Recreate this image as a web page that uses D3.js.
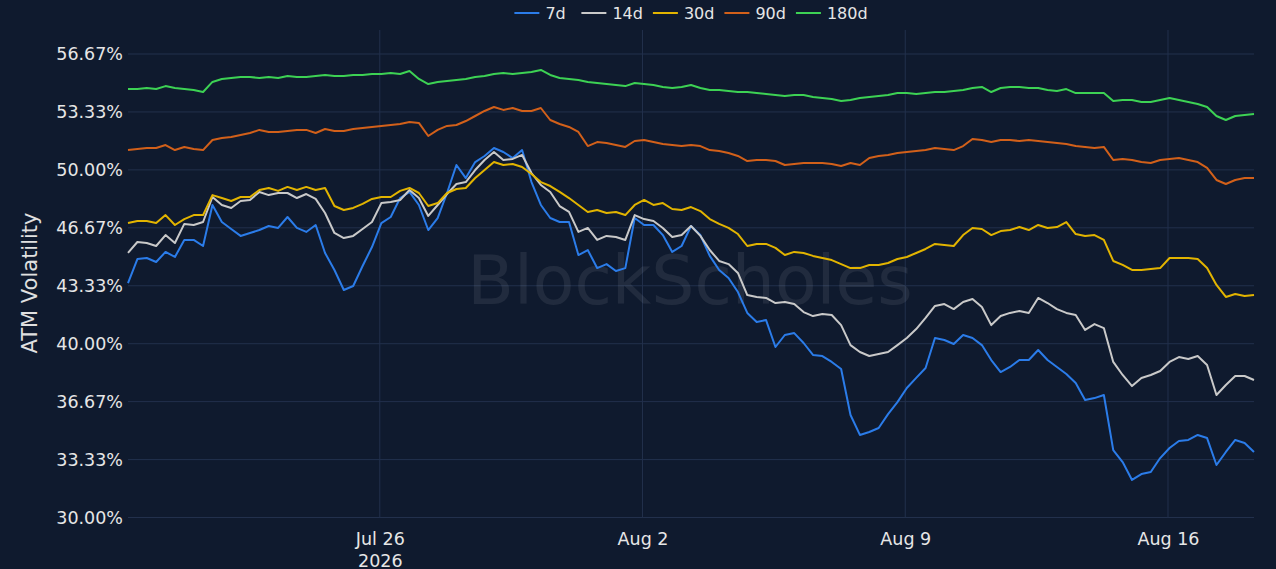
<!DOCTYPE html>
<html>
<head>
<meta charset="utf-8">
<script src="https://cdn.jsdelivr.net/npm/d3@7"></script>
<style>
  html, body { margin: 0; padding: 0; background: #0f1a2e; }
  svg { display: block; font-family: "DejaVu Sans", Verdana, sans-serif; }
</style>
</head>
<body>
<svg id="chart" width="1276" height="569"></svg>
<script>
// ATM volatility by tenor, sampled every 6 hours
var start = new Date(2026, 6, 19, 7, 0);
var times = d3.range(121).map(function (i) { return d3.timeHour.offset(start, 6 * i); });

var tenors = ["7d", "14d", "30d", "90d", "180d"];
var colors = ["#2b7ce9", "#c9c9c9", "#e2b400", "#d2601a", "#3dd254"];

var vol7d = [
  43.49, 44.87, 44.93, 44.70, 45.28, 44.99, 45.97, 45.97, 45.62, 47.98,
  47.00, 46.60, 46.20, 46.37, 46.54, 46.77, 46.66, 47.29, 46.66, 46.43,
  46.83, 45.22, 44.24, 43.09, 43.32, 44.47, 45.56, 46.94, 47.29, 48.38,
  48.73, 47.98, 46.54, 47.23, 48.67, 50.28, 49.53, 50.45, 50.80, 51.26,
  51.03, 50.68, 51.14, 49.30, 47.98, 47.23, 47.00, 47.00, 45.10, 45.39,
  44.35, 44.58, 44.18, 44.35, 47.23, 46.83, 46.83, 46.25, 45.28, 45.62,
  46.77, 46.25, 45.05, 44.24, 43.78, 42.97, 41.77, 41.25, 41.36, 39.81,
  40.50, 40.61, 40.04, 39.35, 39.29, 38.95, 38.54, 35.90, 34.75, 34.92,
  35.15, 35.95, 36.64, 37.45, 38.03, 38.60, 40.33, 40.21, 39.98, 40.50,
  40.33, 39.92, 39.06, 38.37, 38.66, 39.06, 39.06, 39.64, 39.06, 38.66,
  38.26, 37.74, 36.76, 36.87, 37.05, 33.88, 33.19, 32.16, 32.50, 32.62,
  33.42, 34.00, 34.40, 34.46, 34.75, 34.57, 33.02, 33.77, 34.46, 34.29, 33.77
];
var vol14d = [
  45.22, 45.85, 45.79, 45.62, 46.25, 45.79, 46.89, 46.83, 47.00, 48.44,
  47.98, 47.81, 48.21, 48.27, 48.73, 48.55, 48.67, 48.67, 48.38, 48.61,
  48.33, 47.52, 46.37, 46.08, 46.20, 46.60, 47.00, 48.09, 48.15, 48.27,
  48.84, 48.38, 47.35, 47.98, 48.61, 49.19, 49.30, 49.99, 50.57, 51.03,
  50.57, 50.63, 50.86, 49.82, 49.13, 48.73, 47.92, 47.58, 46.43, 46.66,
  45.97, 46.20, 46.14, 45.97, 47.40, 47.17, 47.06, 46.66, 46.14, 46.25,
  46.77, 46.20, 45.39, 44.76, 44.58, 44.07, 42.80, 42.69, 42.63, 42.34,
  42.40, 42.28, 41.82, 41.59, 41.71, 41.65, 41.07, 39.92, 39.52, 39.29,
  39.41, 39.52, 39.92, 40.33, 40.84, 41.48, 42.17, 42.28, 41.99, 42.40,
  42.57, 42.11, 41.07, 41.59, 41.77, 41.88, 41.77, 42.63, 42.34, 41.99,
  41.77, 41.65, 40.79, 41.13, 40.90, 38.95, 38.20, 37.56, 38.03, 38.20,
  38.43, 38.95, 39.23, 39.12, 39.29, 38.77, 37.05, 37.62, 38.14, 38.14, 37.91
];
var vol30d = [
  46.94, 47.06, 47.06, 46.94, 47.40, 46.83, 47.17, 47.40, 47.40, 48.55,
  48.38, 48.21, 48.44, 48.44, 48.84, 48.96, 48.79, 49.02, 48.84, 49.02,
  48.84, 48.96, 47.92, 47.69, 47.81, 48.04, 48.33, 48.44, 48.44, 48.79,
  48.96, 48.67, 47.92, 48.09, 48.67, 48.90, 48.96, 49.53, 49.99, 50.45,
  50.28, 50.34, 50.17, 49.76, 49.30, 49.07, 48.73, 48.38, 47.98, 47.58,
  47.69, 47.52, 47.58, 47.40, 47.98, 48.27, 47.98, 48.09, 47.75, 47.69,
  47.86, 47.63, 47.17, 46.89, 46.66, 46.31, 45.62, 45.74, 45.74, 45.51,
  45.10, 45.28, 45.22, 45.05, 44.93, 44.81, 44.58, 44.35, 44.35, 44.53,
  44.53, 44.64, 44.87, 44.99, 45.22, 45.45, 45.74, 45.68, 45.62, 46.25,
  46.66, 46.60, 46.25, 46.48, 46.54, 46.71, 46.54, 46.83, 46.66, 46.71,
  47.00, 46.31, 46.20, 46.25, 45.97, 44.76, 44.53, 44.24, 44.24, 44.30,
  44.35, 44.93, 44.93, 44.93, 44.87, 44.35, 43.38, 42.69, 42.86, 42.74, 42.80
];
var vol90d = [
  51.14, 51.20, 51.26, 51.26, 51.43, 51.14, 51.32, 51.20, 51.14, 51.72,
  51.83, 51.89, 52.01, 52.12, 52.30, 52.18, 52.18, 52.24, 52.30, 52.30,
  52.12, 52.35, 52.24, 52.24, 52.35, 52.41, 52.47, 52.53, 52.58, 52.64,
  52.76, 52.70, 51.95, 52.30, 52.53, 52.58, 52.81, 53.10, 53.39, 53.62,
  53.45, 53.56, 53.39, 53.39, 53.56, 52.87, 52.64, 52.47, 52.18, 51.37,
  51.60, 51.55, 51.43, 51.32, 51.66, 51.72, 51.60, 51.49, 51.43, 51.37,
  51.43, 51.37, 51.14, 51.09, 50.97, 50.80, 50.51, 50.57, 50.57, 50.51,
  50.28, 50.34, 50.40, 50.40, 50.40, 50.34, 50.22, 50.40, 50.28, 50.68,
  50.80, 50.86, 50.97, 51.03, 51.09, 51.14, 51.26, 51.20, 51.14, 51.37,
  51.78, 51.72, 51.60, 51.72, 51.72, 51.66, 51.72, 51.66, 51.60, 51.55,
  51.49, 51.37, 51.32, 51.26, 51.32, 50.57, 50.63, 50.57, 50.45, 50.40,
  50.57, 50.63, 50.68, 50.57, 50.45, 50.11, 49.42, 49.19, 49.42, 49.53, 49.53
];
var vol180d = [
  54.65, 54.65, 54.71, 54.65, 54.82, 54.71, 54.65, 54.59, 54.48, 55.06,
  55.23, 55.29, 55.34, 55.34, 55.29, 55.34, 55.29, 55.40, 55.34, 55.34,
  55.40, 55.46, 55.40, 55.40, 55.46, 55.46, 55.52, 55.52, 55.57, 55.52,
  55.69, 55.23, 54.94, 55.06, 55.11, 55.17, 55.23, 55.34, 55.40, 55.52,
  55.57, 55.52, 55.57, 55.63, 55.75, 55.46, 55.29, 55.23, 55.17, 55.06,
  55.00, 54.94, 54.88, 54.82, 55.00, 54.94, 54.88, 54.77, 54.71, 54.77,
  54.88, 54.71, 54.59, 54.59, 54.54, 54.48, 54.48, 54.42, 54.37, 54.31,
  54.25, 54.31, 54.31, 54.19, 54.14, 54.08, 53.96, 54.02, 54.14, 54.19,
  54.25, 54.31, 54.42, 54.42, 54.37, 54.42, 54.48, 54.48, 54.54, 54.59,
  54.71, 54.77, 54.48, 54.71, 54.77, 54.77, 54.71, 54.71, 54.59, 54.54,
  54.65, 54.42, 54.42, 54.42, 54.42, 53.96, 54.02, 54.02, 53.91, 53.91,
  54.02, 54.14, 54.02, 53.91, 53.79, 53.62, 53.10, 52.87, 53.10, 53.16, 53.22
];
var series = [vol7d, vol14d, vol30d, vol90d, vol180d];

var yTicks = [30, 33.333, 36.667, 40, 43.333, 46.667, 50, 53.333, 56.667];
var xTicks = [new Date(2026, 6, 26), new Date(2026, 7, 2), new Date(2026, 7, 9), new Date(2026, 7, 16)];

var W = 1276, H = 569;
var m = { left: 128, right: 22, top: 54, bottom: 51.5 };
var tickFont = 17.5;

var svg = d3.select("#chart");
svg.append("rect").attr("width", W).attr("height", H).attr("fill", "#0f1a2e");

var x = d3.scaleTime()
    .domain([times[0], times[times.length - 1]])
    .range([m.left, W - m.right]);
var y = d3.scaleLinear()
    .domain([30, 56.667])
    .range([H - m.bottom, m.top]);

// grid
svg.append("g").selectAll("line").data(yTicks).join("line")
    .attr("x1", m.left).attr("x2", W - m.right)
    .attr("y1", function (d) { return y(d); }).attr("y2", function (d) { return y(d); })
    .attr("stroke", "#22304c").attr("stroke-width", 1);
svg.append("g").selectAll("line").data(xTicks).join("line")
    .attr("x1", function (d) { return x(d); }).attr("x2", function (d) { return x(d); })
    .attr("y1", 30).attr("y2", H - m.bottom)
    .attr("stroke", "#22304c").attr("stroke-width", 1);

// watermark
svg.append("text")
    .attr("x", 690).attr("y", 285)
    .attr("text-anchor", "middle").attr("dominant-baseline", "middle")
    .attr("font-size", 68).attr("fill", "#ffffff").attr("fill-opacity", 0.08)
    .text("BlockScholes");

// y axis
var yAxis = d3.axisLeft(y).tickValues(yTicks).tickSize(0).tickPadding(5)
    .tickFormat(function (d) { return d.toFixed(2) + "%"; });
var gy = svg.append("g").attr("transform", "translate(" + m.left + ",0)").call(yAxis);
gy.select(".domain").remove();
gy.selectAll("text").attr("font-size", tickFont).attr("fill", "#e6e6e6")
    .attr("font-family", "DejaVu Sans, sans-serif");

// x axis
var xAxis = d3.axisBottom(x).tickValues(xTicks).tickSize(0).tickPadding(15)
    .tickFormat(d3.timeFormat("%b %-d"));
var gx = svg.append("g").attr("transform", "translate(0," + (H - m.bottom) + ")").call(xAxis);
gx.select(".domain").remove();
gx.selectAll("text").attr("font-size", tickFont).attr("fill", "#e6e6e6")
    .attr("font-family", "DejaVu Sans, sans-serif");
gx.selectAll(".tick").filter(function (d, i) { return i === 0; })
    .append("text")
    .attr("y", 49).attr("fill", "#e6e6e6").attr("font-size", tickFont)
    .attr("font-family", "DejaVu Sans, sans-serif")
    .attr("text-anchor", "middle")
    .text("2026");

// y title
svg.append("text")
    .attr("transform", "translate(37,283) rotate(-90)")
    .attr("text-anchor", "middle")
    .attr("font-size", 21).attr("fill", "#e0e0e0")
    .text("ATM Volatility");

// lines
var line = d3.line()
    .x(function (d, i) { return x(times[i]); })
    .y(function (d) { return y(d); });
svg.append("g").selectAll("path").data(series).join("path")
    .attr("d", line)
    .attr("fill", "none")
    .attr("stroke", function (d, i) { return colors[i]; })
    .attr("stroke-width", 2)
    .attr("stroke-linejoin", "round");

// legend
var legend = svg.append("g").attr("transform", "translate(0,13)");
var lx = 0;
var items = legend.selectAll("g").data(tenors).join("g");
items.append("line")
    .attr("x1", 0).attr("x2", 25).attr("y1", 0).attr("y2", 0)
    .attr("stroke", function (d, i) { return colors[i]; }).attr("stroke-width", 2);
items.append("text")
    .attr("x", 31).attr("dy", "0.35em")
    .attr("font-size", 16).attr("fill", "#e6e6e6")
    .text(function (d) { return d; });
items.each(function () {
    var w = this.querySelector("text").getComputedTextLength();
    d3.select(this).attr("transform", "translate(" + lx + ",0)");
    lx += 31 + Math.max(w, 26) + 10;
});
legend.attr("transform", "translate(" + (691 - (lx - 10) / 2) + ",13)");
</script>
</body>
</html>
